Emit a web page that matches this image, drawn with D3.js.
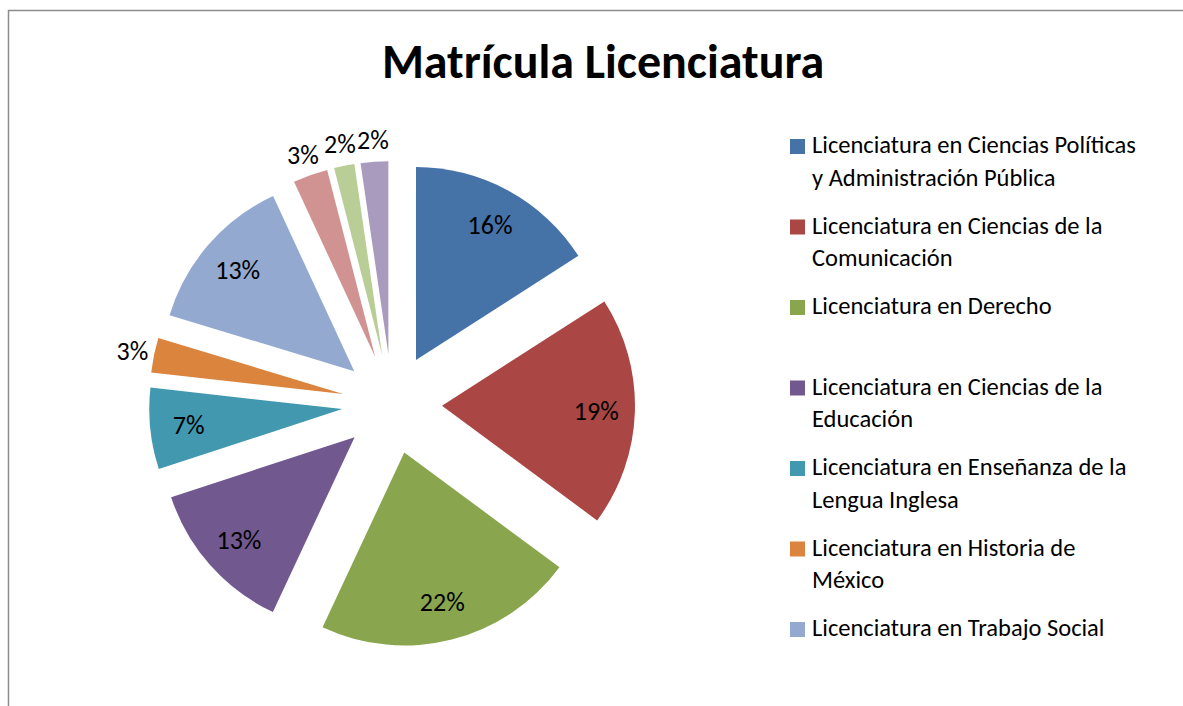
<!DOCTYPE html>
<html>
<head>
<meta charset="utf-8">
<script src="https://cdn.jsdelivr.net/npm/d3@7"></script>
<style>
    body { margin: 0; background: #fff; }
    svg { display: block; }
    text { font-family: Carlito, Calibri, Lato, sans-serif; fill: #000; }
</style>
</head>
<body>
<svg id="chart"></svg>
<script>
// data
var categories = [
    'Licenciatura en Ciencias Políticas y Administración Pública',
    'Licenciatura en Ciencias de la Comunicación',
    'Licenciatura en Derecho',
    'Licenciatura en Ciencias de la Educación',
    'Licenciatura en Enseñanza de la Lengua Inglesa',
    'Licenciatura en Historia de México',
    'Licenciatura en Trabajo Social',
    'Otra 1',
    'Otra 2',
    'Otra 3'
];
var shares = [15.9, 19.2, 21.8, 13.0, 6.8, 2.9, 13.4, 2.9, 1.7, 2.3];
var colors = ['#4572A7', '#AA4643', '#89A54E', '#71588F', '#4198AF', '#DB843D', '#93A9CF', '#D19392', '#B9CD96', '#A99BBD'];
var legendCount = 7; // only the first seven fit in the legend box

var width = 1183;
var height = 706;
var cx = 392;
var cy = 404;
var radius = 193;
var explode = 50;

var svg = d3.select('#chart')
    .attr('width', width)
    .attr('height', height);

// chart area border (top and left edges visible)
svg.append('path')
    .attr('d', 'M8.5,' + height + 'V10.5H' + width)
    .attr('fill', 'none')
    .attr('stroke', '#8c8c8c')
    .attr('stroke-width', 1.5);

svg.append('text')
    .attr('x', 603)
    .attr('y', 78)
    .attr('text-anchor', 'middle')
    .attr('font-size', 48)
    .attr('font-weight', 'bold')
    .text('Matrícula Licenciatura');

var total = d3.sum(shares);
var pie = d3.pie().sort(null).value(d => d);
var arcs = pie(shares);

var arc = d3.arc().innerRadius(0).outerRadius(radius);
var labelArc = d3.arc().innerRadius(radius * 0.8).outerRadius(radius * 0.8);
var outerLabelArc = d3.arc().innerRadius(radius + 22).outerRadius(radius + 22);

function midAngle(d) {
    return (d.startAngle + d.endAngle) / 2;
}

var g = svg.append('g').attr('transform', 'translate(' + cx + ',' + cy + ')');

var slices = g.selectAll('.slice')
    .data(arcs)
    .join('g')
    .attr('class', 'slice')
    .attr('transform', d => {
        var a = midAngle(d);
        return 'translate(' + (Math.sin(a) * explode) + ',' + (-Math.cos(a) * explode) + ')';
    });

slices.append('path')
    .attr('d', arc)
    .attr('fill', (d, i) => colors[i]);

slices.append('text')
    .attr('transform', d => {
        var pct = d.value / total * 100;
        var c = pct < 4 ? outerLabelArc.centroid(d) : labelArc.centroid(d);
        return 'translate(' + c[0] + ',' + c[1] + ')';
    })
    .attr('text-anchor', 'middle')
    .attr('dy', '0.35em')
    .attr('font-size', 26)
    .text(d => Math.round(d.value / total * 100) + '%');

// legend
var legend = svg.append('g').attr('class', 'legend');
var legendX = 790;
var legendY = 153;
var itemStep = 80.5;
var lineStep = 32.5;
var maxLineWidth = 330;

categories.slice(0, legendCount).forEach(function(name, i) {
    var y = legendY + i * itemStep;
    legend.append('rect')
        .attr('x', legendX)
        .attr('y', y - 14)
        .attr('width', 15)
        .attr('height', 15)
        .attr('fill', colors[i]);

    var text = legend.append('text')
        .attr('x', legendX + 22)
        .attr('y', y)
        .attr('font-size', 24.5);

    // wrap words onto lines like the original legend
    var words = name.split(' ');
    var line = [];
    var lineNo = 0;
    var tspan = text.append('tspan').attr('x', legendX + 22).attr('y', y);
    words.forEach(function(w) {
        line.push(w);
        tspan.text(line.join(' '));
        if (tspan.node().getComputedTextLength() > maxLineWidth && line.length > 1) {
            line.pop();
            tspan.text(line.join(' '));
            line = [w];
            lineNo++;
            tspan = text.append('tspan')
                .attr('x', legendX + 22)
                .attr('y', y + lineNo * lineStep)
                .text(w);
        }
    });
});
</script>
</body>
</html>
